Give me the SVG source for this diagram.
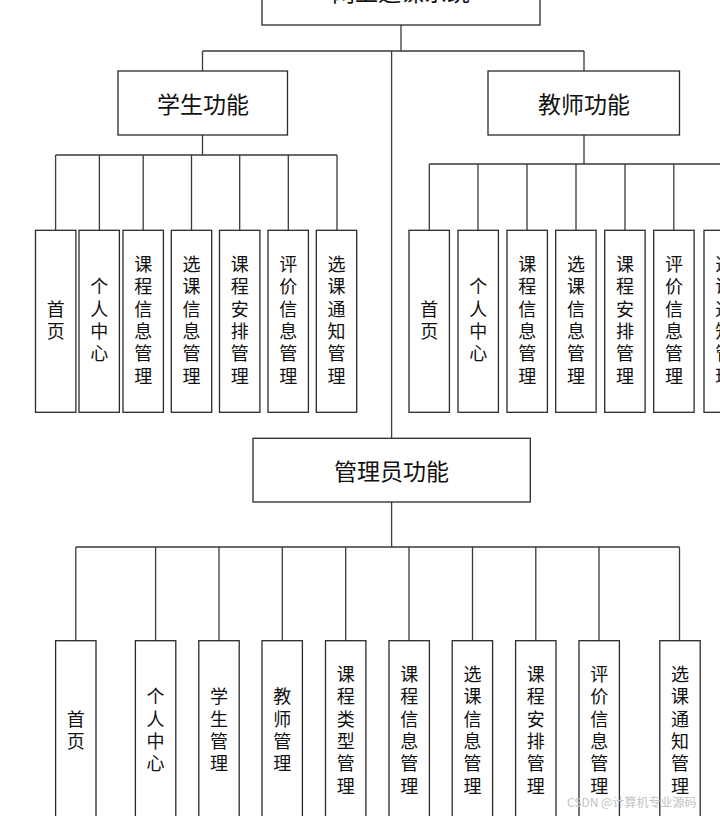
<svg xmlns="http://www.w3.org/2000/svg" width="720" height="816" viewBox="0 0 720 816">
<style>
.box{fill:#fff;stroke:#2a2a2a;stroke-width:1.3}
.ln{fill:none;stroke:#3a3a3a;stroke-width:1.3}
.h{font-family:"Noto Sans CJK SC","Noto Sans",sans-serif;font-size:23px;fill:#111;text-anchor:middle;dominant-baseline:central}
.v{font-family:"Noto Sans CJK SC","Noto Sans",sans-serif;font-size:18px;fill:#111;text-anchor:middle;dominant-baseline:central;writing-mode:vertical-rl;letter-spacing:4.3px}
.wm{font-family:"Noto Sans CJK SC","Noto Sans",sans-serif;font-size:12px;fill:#c4c4c4}
</style>
<rect width="720" height="816" fill="#fff"/>
<g id="connectors">
<path class="ln" d="M401,25V51M202.5,51H584M202.5,51V71M584,51V71M391.6,51V438.3"/>
<path class="ln" d="M202.5,135V155M55.6,155H337M55.6,155V230M99.4,155V230M143.2,155V230M191.5,155V230M239.7,155V230M288.3,155V230M337,155V230"/>
<path class="ln" d="M584,135V164M429.3,164H730M429.3,164V230M478,164V230M527,164V230M576,164V230M625,164V230M673.8,164V230M724,164V230"/>
<path class="ln" d="M391.6,502V547M75.8,547H679.5M75.8,547V641M155.6,547V641M219,547V641M282.3,547V641M345.7,547V641M409,547V641M472.5,547V641M535.8,547V641M599,547V641M679.5,547V641"/>
</g>
<g id="root"><rect class="box" x="262" y="-40" width="278" height="65"/><text class="h" x="401" y="-9">网上选课系统</text></g>
<g id="student"><rect class="box" x="118" y="71" width="169.5" height="64"/><text class="h" x="203" y="103">学生功能</text></g>
<g id="teacher"><rect class="box" x="488" y="71" width="191.5" height="64"/><text class="h" x="584" y="103">教师功能</text></g>
<g id="admin"><rect class="box" x="253" y="438.3" width="277.3" height="63.7"/><text class="h" x="391.5" y="470">管理员功能</text></g>

<g id="s1"><rect class="box" x="35.5" y="230.3" width="40.4" height="182"/><text class="v" x="55.7" y="322.2">首页</text></g>
<g id="s2"><rect class="box" x="79" y="230.3" width="40.4" height="182"/><text class="v" x="99.2" y="322.2">个人中心</text></g>
<g id="s3"><rect class="box" x="123" y="230.3" width="40.4" height="182"/><text class="v" x="143.2" y="322.2">课程信息管理</text></g>
<g id="s4"><rect class="box" x="171.3" y="230.3" width="40.4" height="182"/><text class="v" x="191.5" y="322.2">选课信息管理</text></g>
<g id="s5"><rect class="box" x="219.5" y="230.3" width="40.4" height="182"/><text class="v" x="239.7" y="322.2">课程安排管理</text></g>
<g id="s6"><rect class="box" x="268" y="230.3" width="40.4" height="182"/><text class="v" x="288.2" y="322.2">评价信息管理</text></g>
<g id="s7"><rect class="box" x="316.3" y="230.3" width="40.4" height="182"/><text class="v" x="336.5" y="322.2">选课通知管理</text></g>

<g id="t1"><rect class="box" x="409" y="230.3" width="40.4" height="182"/><text class="v" x="429.2" y="322.2">首页</text></g>
<g id="t2"><rect class="box" x="458" y="230.3" width="40.4" height="182"/><text class="v" x="478.2" y="322.2">个人中心</text></g>
<g id="t3"><rect class="box" x="507" y="230.3" width="40.4" height="182"/><text class="v" x="527.2" y="322.2">课程信息管理</text></g>
<g id="t4"><rect class="box" x="555.7" y="230.3" width="40.4" height="182"/><text class="v" x="575.9" y="322.2">选课信息管理</text></g>
<g id="t5"><rect class="box" x="604.7" y="230.3" width="40.4" height="182"/><text class="v" x="624.9" y="322.2">课程安排管理</text></g>
<g id="t6"><rect class="box" x="653.7" y="230.3" width="40.4" height="182"/><text class="v" x="673.9" y="322.2">评价信息管理</text></g>
<g id="t7"><rect class="box" x="704" y="230.3" width="40.4" height="182"/><text class="v" x="724.2" y="322.2">选课通知管理</text></g>

<g id="a1"><rect class="box" x="55.6" y="640.7" width="40.4" height="190"/><text class="v" x="75.8" y="732.2">首页</text></g>
<g id="a2"><rect class="box" x="135.4" y="640.7" width="40.4" height="190"/><text class="v" x="155.6" y="732.2">个人中心</text></g>
<g id="a3"><rect class="box" x="198.8" y="640.7" width="40.4" height="190"/><text class="v" x="219" y="732.2">学生管理</text></g>
<g id="a4"><rect class="box" x="262" y="640.7" width="40.4" height="190"/><text class="v" x="282.2" y="732.2">教师管理</text></g>
<g id="a5"><rect class="box" x="325.5" y="640.7" width="40.4" height="190"/><text class="v" x="345.7" y="732.2">课程类型管理</text></g>
<g id="a6"><rect class="box" x="389" y="640.7" width="40.4" height="190"/><text class="v" x="409.2" y="732.2">课程信息管理</text></g>
<g id="a7"><rect class="box" x="452.2" y="640.7" width="40.4" height="190"/><text class="v" x="472.4" y="732.2">选课信息管理</text></g>
<g id="a8"><rect class="box" x="515.6" y="640.7" width="40.4" height="190"/><text class="v" x="535.8" y="732.2">课程安排管理</text></g>
<g id="a9"><rect class="box" x="579" y="640.7" width="40.4" height="190"/><text class="v" x="599.2" y="732.2">评价信息管理</text></g>
<g id="a10"><rect class="box" x="659.8" y="640.7" width="40.4" height="190"/><text class="v" x="680" y="732.2">选课通知管理</text></g>
<text class="wm" x="567" y="807">CSDN @计算机专业源码</text>
</svg>
